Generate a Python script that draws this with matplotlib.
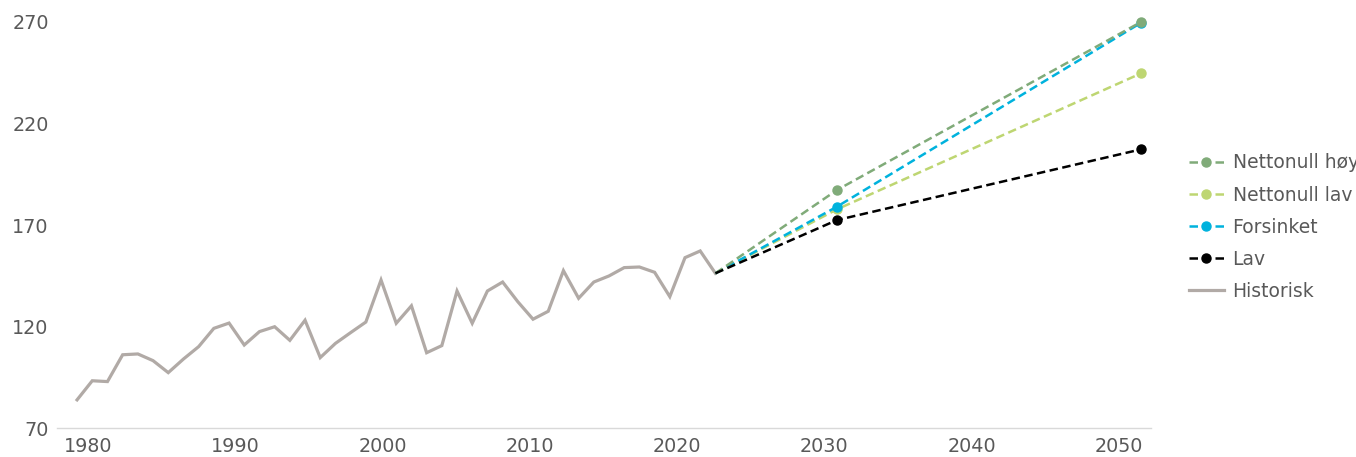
import numpy as np
import matplotlib
matplotlib.use('Agg')
import matplotlib.pyplot as plt

# historisk serie 1980-2022
hist_years = np.arange(1980, 2023)
hist_values = [84.0, 93.4, 93.0, 106.2, 106.6, 103.3, 97.4, 104.1, 110.2, 119.2,
               121.8, 111.0, 117.6, 120.0, 113.3, 123.2, 104.8, 111.8, 117.1, 122.3,
               143.0, 121.7, 130.3, 107.2, 110.7, 137.6, 121.7, 137.6, 142.0, 132.3,
               123.7, 127.6, 147.6, 134.0, 142.0, 145.0, 149.1, 149.4, 146.8, 134.8,
               154.0, 157.3, 146.3]

# scenarier fra siste historiske år
scen_years = [2022, 2030, 2050]
nettonull_hoy = [146.3, 187.3, 270.0]
nettonull_lav = [146.3, 177.8, 244.7]
forsinket = [146.3, 179.1, 269.6]
lav = [146.3, 172.5, 207.3]

tick_years = [1980, 1990, 2000, 2010, 2020, 2030, 2040, 2050]
y_ticks = [70, 120, 170, 220, 270]

plt.rcParams['font.family'] = ['DejaVu Sans']
txt_color = '#595959'

fig = plt.figure(figsize=(13.56, 4.57), dpi=100)
ax = fig.add_axes([57/1356, 28.7/457, (1151-57)/1356, (428.3-22)/457])

ax.plot(hist_years, hist_values, color='#b1aaa6', lw=2.3, label='Historisk',
        zorder=2, solid_joinstyle='miter')

dash = (0, (3.4, 1.8))
ms = 6.5
l_lav, = ax.plot(scen_years, nettonull_lav, color='#bed672', lw=1.8, ls=dash,
                 marker='o', ms=ms, markevery=[1, 2], label='Nettonull lav',
                 clip_on=False, zorder=3)
l_fors, = ax.plot(scen_years, forsinket, color='#00b2dd', lw=1.8, ls=dash,
                  marker='o', ms=ms, markevery=[1, 2], label='Forsinket',
                  clip_on=False, zorder=4)
l_hoy, = ax.plot(scen_years, nettonull_hoy, color='#80ab79', lw=1.8, ls=dash,
                 marker='o', ms=ms, markevery=[1, 2], label='Nettonull høy',
                 clip_on=False, zorder=5)
l_low, = ax.plot(scen_years, lav, color='black', lw=1.8, ls=dash,
                 marker='o', ms=ms, markevery=[1, 2], label='Lav',
                 clip_on=False, zorder=6)

ax.set_xlim(1978.68, 2050.66)
ax.set_ylim(70, 270)

# kategorietikettene ligger litt tettere enn årsskalaen
tick_pos = [1980.72 + (t - 1980) * 0.969 for t in tick_years]
ax.set_xticks(tick_pos)
ax.set_xticklabels([str(t) for t in tick_years])
ax.set_yticks(y_ticks)
ax.tick_params(axis='both', length=0, labelsize=13.8, colors=txt_color)
ax.tick_params(axis='x', pad=6)
ax.tick_params(axis='y', pad=6)

for s in ['top', 'right', 'left']:
    ax.spines[s].set_visible(False)
ax.spines['bottom'].set_color('#d9d9d9')
ax.spines['bottom'].set_linewidth(1.0)

hist_line = ax.get_lines()[0]
handles = [l_hoy, l_lav, l_fors, l_low, hist_line]
leg = fig.legend(handles=handles, labels=[h.get_label() for h in handles],
                 loc='upper left', bbox_to_anchor=(1181/1356, 1 - 146/457),
                 frameon=False, fontsize=13.5, handlelength=1.9,
                 handletextpad=0.45, labelspacing=0.7, borderaxespad=0)
for t in leg.get_texts():
    t.set_color(txt_color)

fig.savefig('out.png', dpi=100)
